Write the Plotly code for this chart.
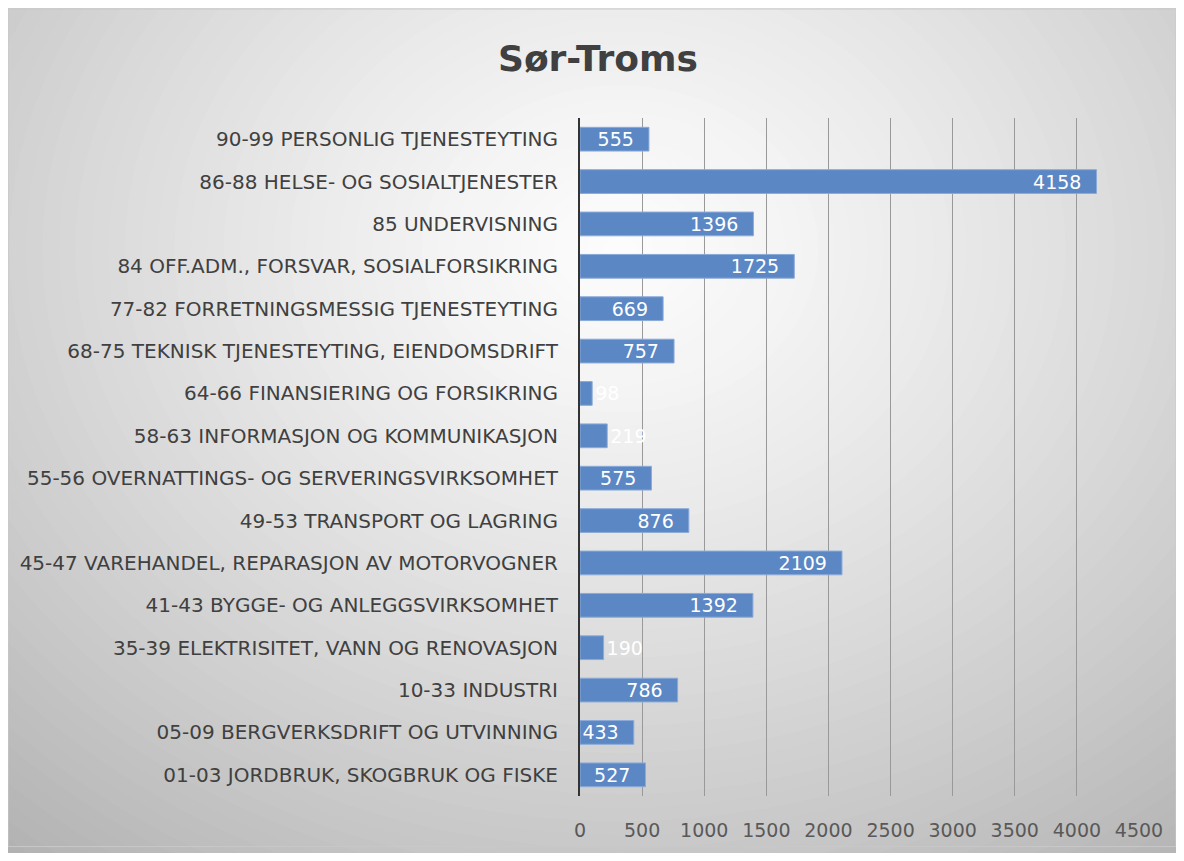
import plotly.graph_objects as go

# Kategorier (nederst til øverst) og antall sysselsatte
kategorier = [
    "01-03 JORDBRUK, SKOGBRUK OG FISKE",
    "05-09 BERGVERKSDRIFT OG UTVINNING",
    "10-33 INDUSTRI",
    "35-39 ELEKTRISITET, VANN OG RENOVASJON",
    "41-43 BYGGE- OG ANLEGGSVIRKSOMHET",
    "45-47 VAREHANDEL, REPARASJON AV MOTORVOGNER",
    "49-53 TRANSPORT OG LAGRING",
    "55-56 OVERNATTINGS- OG SERVERINGSVIRKSOMHET",
    "58-63 INFORMASJON OG KOMMUNIKASJON",
    "64-66 FINANSIERING OG FORSIKRING",
    "68-75 TEKNISK TJENESTEYTING, EIENDOMSDRIFT",
    "77-82 FORRETNINGSMESSIG TJENESTEYTING",
    "84 OFF.ADM., FORSVAR, SOSIALFORSIKRING",
    "85 UNDERVISNING",
    "86-88 HELSE- OG SOSIALTJENESTER",
    "90-99 PERSONLIG TJENESTEYTING",
]
antall = [527, 433, 786, 190, 1392, 2109, 876, 575, 219, 98, 757, 669, 1725, 1396, 4158, 555]
x_ticks = [0, 500, 1000, 1500, 2000, 2500, 3000, 3500, 4000, 4500]

# Siden har 8px marg rundt figuren
OFF = 8
W, H = 1168, 845
M_L, M_R, M_T, M_B = 572, 37, 110, 51
PW = W - M_L - M_R
PH = H - M_T - M_B

FONT = "DejaVu Sans"

# Skjermpiksel -> paper-koordinater
def px(x):
    return (x - OFF - M_L) / PW

def py(y):
    return (H - M_B - (y - OFF)) / PH

# Korte stolper får etiketten utenfor, lange innenfor
posisjoner = ["outside" if v < 300 else "inside" for v in antall]
tekster = [f"{v}" if v < 300 else f"{v}\u00a0\u00a0" for v in antall]

fig = go.Figure()
fig.add_trace(go.Bar(
    y=kategorier,
    x=antall,
    orientation="h",
    marker=dict(color="#5b87c5", line=dict(color="#8aaad8", width=1)),
    text=tekster,
    textposition=posisjoner,
    insidetextanchor="end",
    constraintext="none",
    cliponaxis=False,
    textfont=dict(family=FONT, size=19, color="white"),
    width=0.56,
    hoverinfo="skip",
))

# Radial gradient bakgrunn med konsentriske ellipser
shapes = []
cx, cy = 620, 250
RX, RY = 900, 750
N = 60
TMAX = 1.1
for i in range(N):
    t = TMAX * (1 - i / N)
    c = int(round(252 - 68 * t ** 1.3))
    shapes.append(dict(
        type="circle", xref="paper", yref="paper", layer="below",
        x0=px(cx - RX * t), x1=px(cx + RX * t),
        y0=py(cy + RY * t), y1=py(cy - RY * t),
        fillcolor=f"rgb({c},{c},{c})", line=dict(width=0),
    ))
shapes.append(dict(
    type="rect", xref="paper", yref="paper", layer="below",
    x0=px(8), x1=px(1176), y0=py(853), y1=py(8),
    fillcolor="rgba(0,0,0,0)", line=dict(color="#c8c8c8", width=1),
))

fig.update_layout(
    width=W, height=H,
    margin=dict(l=M_L, r=M_R, t=M_T, b=M_B),
    paper_bgcolor="white",
    plot_bgcolor="rgba(0,0,0,0)",
    shapes=shapes,
    showlegend=False,
    title=dict(
        text="<b>Sør-Troms</b>",
        x=590 / W, xanchor="center",
        y=1 - 50 / H, yanchor="middle",
        font=dict(family=FONT, size=36, color="#404040"),
    ),
    xaxis=dict(
        range=[0, 4500],
        tickvals=x_ticks,
        showgrid=True, gridcolor="#999999", gridwidth=1,
        zeroline=False, showline=False,
        ticklabelstandoff=21,
        tickfont=dict(family=FONT, size=19, color="#595959"),
        fixedrange=True,
    ),
    yaxis=dict(
        showgrid=False,
        showline=True, linecolor="#333333", linewidth=2,
        ticklabelstandoff=16,
        tickfont=dict(family=FONT, size=20, color="#404040"),
        fixedrange=True,
    ),
    bargap=0.44,
)

fig.write_html("out.html")
